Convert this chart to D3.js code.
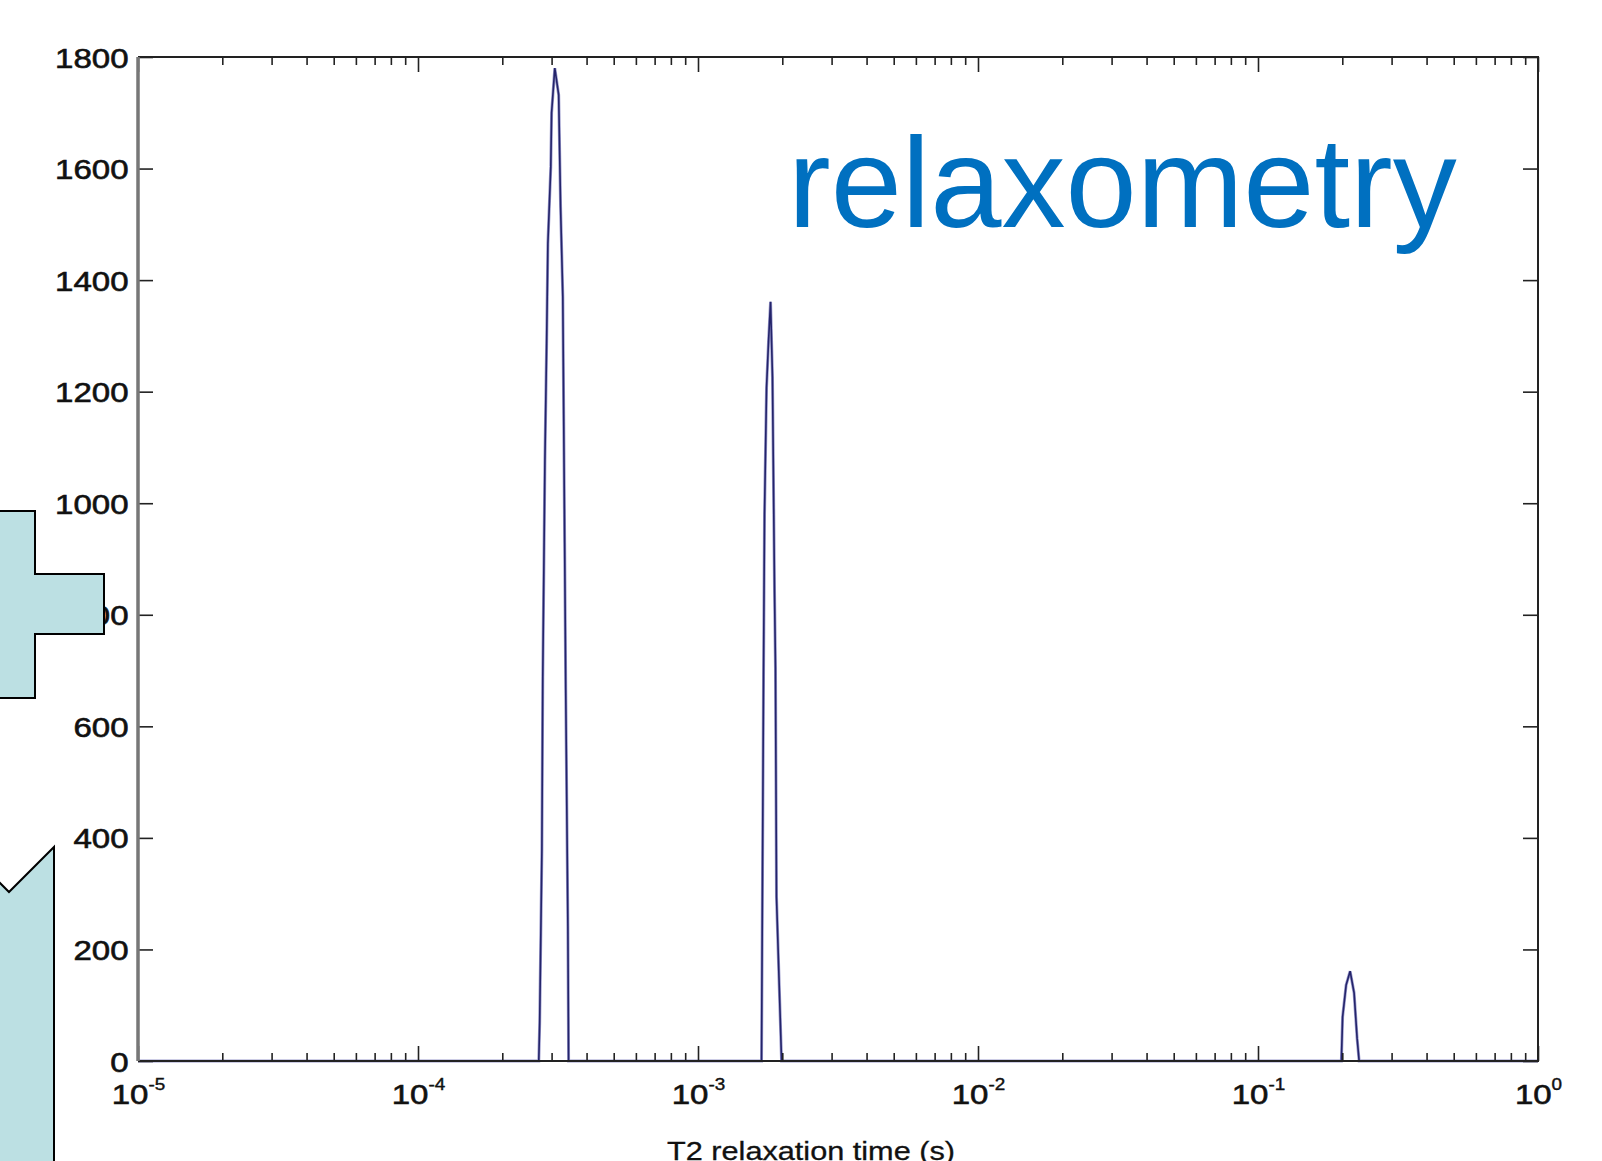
<!DOCTYPE html>
<html>
<head>
<meta charset="utf-8">
<script src="https://cdn.jsdelivr.net/npm/d3@7"></script>
<style>
  body { margin: 0; background: #fff; overflow: hidden; }
  svg { display: block; }
</style>
</head>
<body>
<svg id="chart" width="1602" height="1161"></svg>
<script>
// T2 distribution (seconds, amplitude)
const t2Times = [1e-5,
    2.70e-4, 2.72e-4, 2.77e-4, 2.79e-4, 2.84e-4, 2.88e-4, 2.91e-4, 2.98e-4, 3.00e-4,
    3.08e-4, 3.18e-4, 3.23e-4, 3.29e-4, 3.34e-4, 3.37e-4, 3.43e-4, 3.45e-4,
    1.686e-3, 1.700e-3, 1.714e-3, 1.728e-3, 1.757e-3, 1.786e-3, 1.816e-3, 1.845e-3,
    1.876e-3, 1.891e-3, 1.907e-3, 1.988e-3,
    0.1985, 0.2005, 0.2064, 0.2133, 0.2204, 0.2259, 0.2297,
    1];
const amplitudes = [0,
    0, 68, 378, 687, 1078, 1287, 1466, 1603, 1700,
    1780, 1732, 1531, 1370, 929, 665, 242, 0,
    0, 342, 690, 980, 1207, 1290, 1361, 1226,
    844, 704, 294, 0,
    0, 79, 136, 161, 122, 41, 0,
    0];

const yTicks = [0, 200, 400, 600, 800, 1000, 1200, 1400, 1600, 1800];
const decadeTicks = [1e-5, 1e-4, 1e-3, 1e-2, 1e-1, 1];
const decadeExps = ['-5', '-4', '-3', '-2', '-1', '0'];
const titleText = 'relaxometry';
const xLabelText = 'T2 relaxation time (s)';

const LEFT = 138, RIGHT = 1538, TOP = 57, BOTTOM = 1061;
const STRETCH = 1.18;   // the original figure is stretched sideways
const FONT = 'Liberation Sans, Arial, sans-serif';

const svg = d3.select('#chart');
svg.append('rect').attr('width', 1602).attr('height', 1161).attr('fill', '#fff');

const x = d3.scaleLog().domain([1e-5, 1]).range([LEFT, RIGHT]);
const y = d3.scaleLinear().domain([0, 1800]).range([BOTTOM, TOP]);

// distribution line (drawn first so the frame stays black on top of the zero line)
var line = d3.line()
    .x(function(d) { return x(d[0]); })
    .y(function(d) { return y(d[1]); });
var series = t2Times.map(function(t, i) { return [t, amplitudes[i]]; });
svg.append('path').datum(series)
    .attr('d', line)
    .attr('fill', 'none')
    .attr('stroke', '#9a9acb')
    .attr('stroke-width', 3);
svg.append('path').datum(series)
    .attr('d', line)
    .attr('fill', 'none')
    .attr('stroke', '#24246a')
    .attr('stroke-width', 1.6);

var minorTicks = [];
decadeTicks.slice(0, -1).forEach(function(d) {
    for (var k = 2; k <= 9; ++k) minorTicks.push(k * d);
});

function styleTicks(g) {
    g.select('.domain').remove();
    g.selectAll('.tick line').attr('stroke', '#222').attr('stroke-width', 1.6);
}

function heavyText(sel, size) {
    sel.attr('font-family', FONT)
        .attr('font-size', size)
        .attr('fill', '#111')
        .attr('stroke', '#111')
        .attr('stroke-width', 0.6);
}

// minor ticks, bottom and top
svg.append('g').attr('transform', `translate(0,${BOTTOM})`)
    .call(d3.axisBottom(x).tickValues(minorTicks).tickSize(-8).tickFormat(''))
    .call(styleTicks);
svg.append('g').attr('transform', `translate(0,${TOP})`)
    .call(d3.axisTop(x).tickValues(minorTicks).tickSize(-8).tickFormat(''))
    .call(styleTicks);

// major ticks
var xAxis = svg.append('g').attr('transform', `translate(0,${BOTTOM})`)
    .call(d3.axisBottom(x).tickValues(decadeTicks).tickSize(-15).tickFormat(''))
    .call(styleTicks);
svg.append('g').attr('transform', `translate(0,${TOP})`)
    .call(d3.axisTop(x).tickValues(decadeTicks).tickSize(-15).tickFormat(''))
    .call(styleTicks);
var yAxis = svg.append('g').attr('transform', `translate(${LEFT},0)`)
    .call(d3.axisLeft(y).tickValues(yTicks).tickSize(-15).tickPadding(8)
        .tickFormat(d3.format('d')))
    .call(styleTicks);
svg.append('g').attr('transform', `translate(${RIGHT},0)`)
    .call(d3.axisRight(y).tickValues(yTicks).tickSize(-15).tickFormat(''))
    .call(styleTicks);

yAxis.selectAll('.tick text')
    .call(heavyText, 28)
    .attr('dy', '0.36em')
    .attr('transform', `scale(${STRETCH},1)`);

// x labels 10^n
xAxis.selectAll('.tick').each(function(d, i) {
    var t = d3.select(this).append('text')
        .attr('y', 43)
        .attr('text-anchor', 'middle')
        .call(heavyText, 28)
        .attr('transform', `scale(${STRETCH},1)`);
    t.append('tspan').text('10');
    t.append('tspan').attr('font-size', 16).attr('stroke-width', 0.4)
        .attr('dy', -14).text(decadeExps[i]);
});

// box
svg.append('path')
    .attr('d', `M${LEFT},${TOP}H${RIGHT}V${BOTTOM}H${LEFT}`)
    .attr('fill', 'none').attr('stroke', '#222').attr('stroke-width', 2);
svg.append('line')
    .attr('x1', LEFT).attr('x2', LEFT).attr('y1', TOP).attr('y2', BOTTOM)
    .attr('stroke', '#777').attr('stroke-width', 3.5);

// x axis title (cut off by the frame)
svg.append('text')
    .attr('x', 811 / STRETCH).attr('y', 1160)
    .attr('text-anchor', 'middle')
    .call(heavyText, 26)
    .attr('stroke-width', 0.3)
    .attr('transform', `scale(${STRETCH},1)`)
    .text(xLabelText);

// light blue callout shapes over the left edge
svg.append('path')
    .attr('d', 'M-5,511H35V574H104V634H35V698H-5Z')
    .attr('fill', '#bce0e3').attr('stroke', '#000').attr('stroke-width', 2);
svg.append('path')
    .attr('d', 'M-5,878L9,892L54,847V1170H-5Z')
    .attr('fill', '#bce0e3').attr('stroke', '#000').attr('stroke-width', 2);

// title
svg.append('text')
    .attr('x', 788).attr('y', 227)
    .attr('font-family', FONT)
    .attr('font-size', 128)
    .attr('fill', '#0070c0')
    .text(titleText);
</script>
</body>
</html>
